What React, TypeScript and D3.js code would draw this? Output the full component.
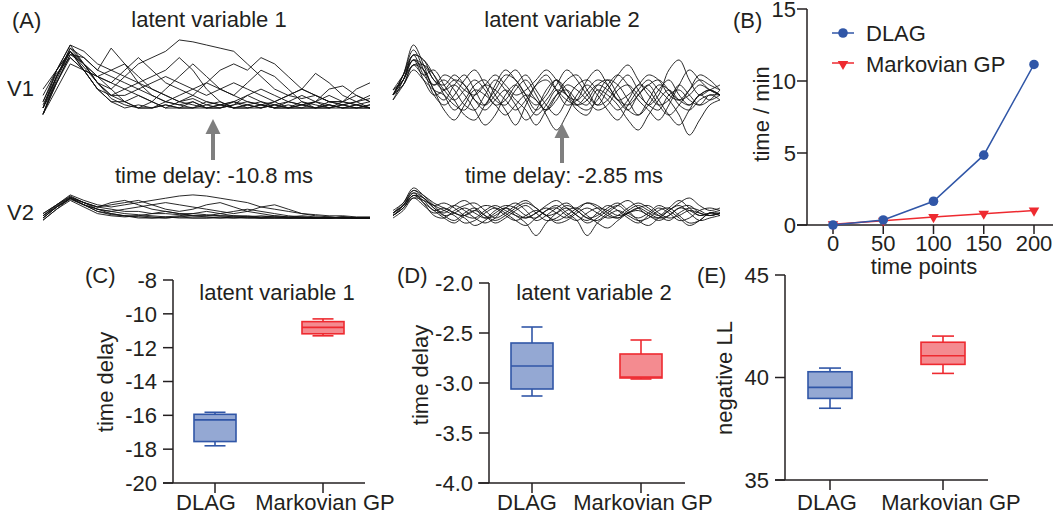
import React from 'react';
import * as d3 from 'd3';

const FONT = '"Liberation Sans", Arial, Helvetica, sans-serif';
const INK = '#231f20';
const BLUE = '#3056a7';
const BLUE_FILL = '#94a8d3';
const RED = '#ee2a30';
const RED_FILL = '#f48b90';
const ARROW = '#7f7f7f';

// (A) single-trial traces, latent variable 1 (area V1 and V2)
const lv1V1: number[][] = [
  [1, 6, 10, 7, 4, 3, 5, 7, 8, 9, 10.8, 10.5, 10, 9.5, 9, 7, 5, 3, 2, 1.5, 2, 1, 1, 0.5, 1],
  [-1, 5, 9.5, 8, 6, 9.5, 7, 4, 2, 1, 0.5, 1, 0, 0.5, 1, 0, 0.5, 1, 0, 0.5, 0, 1, 0.5, 0, 0.5],
  [0, 6, 9, 6, 3, 2, 3, 4, 5, 6, 8, 6, 3, 1, 0, 0.5, 1, 0, 1, 2, 1, 0, 0.5, 1, 0],
  [2, 6, 10, 9, 7, 6, 5, 4, 3, 2, 1, 2, 4, 6, 7, 6, 8, 7, 5, 3, 2, 1, 1, 2, 1],
  [-1, 4, 8.5, 7, 5, 4, 3, 2, 1, 0, 0, 1, 0, 0, 1, 0.5, 0, 1, 2, 3, 5.5, 4, 2, 1, 2],
  [0, 5, 9, 6.5, 4, 2, 1, 0, 1, 3, 5, 7, 5, 3, 2, 1, 0.5, 0, 0.5, 0, 0, 0.5, 0, 0, 0],
  [3, 6, 9, 7, 5, 3, 1, 0, 0, 0.5, 0, 0, 1, 0.5, 0, 0, 0.5, 0, 0, 1, 0.5, 0, 1, 3, 4],
  [-1, 4, 8, 6, 3, 1, 0, 0.5, 0, 1, 2, 3, 4, 3, 2, 4, 6, 5, 3, 1, 0, 0.5, 0, 0.5, 0],
  [0, 5, 9.5, 7, 4, 2, 2, 3, 2, 1, 0.5, 0, 0.5, 1, 0, 0.5, 0, 0.5, 1, 0.5, 0, 0, 0.5, 0, 0],
  [1, 5.5, 8, 6, 5, 6, 7, 5, 3, 2, 1, 1.5, 0.5, 0, 0.5, 2, 3, 2, 1, 0.5, 1, 3, 3.5, 2, 1],
  [-1, 4.5, 9, 7, 4, 1.5, 0.5, 0, 0, 0.5, 0, 0, 0, 0.5, 0, 0, 0, 0.5, 0, 0, 0, 0, 0, 0.5, 0],
  [0.5, 5, 9, 6, 3, 1, 1, 2, 1, 0, 1, 0.5, 0, 0, 0.5, 1, 0.5, 0, 0, 0.5, 1, 0.5, 0, 0, 0.5],
  [-1, 3, 7, 6, 5, 4, 6, 8, 6, 4, 3, 2, 1, 0.5, 1, 2, 1, 0.5, 0, 0, 1, 2, 1, 0.5, 0],
  [0, 4, 8.5, 8, 6, 5, 4, 3, 4, 5, 4, 3, 2, 3, 4, 3, 2, 1, 2, 3, 2, 1, 0.5, 1, 1.5],
];

const lv1V2: number[][] = [
  [2, 6, 10.5, 8, 6, 5, 6, 7, 8, 9, 10, 10.5, 10, 9, 8, 7, 5, 4, 3, 2, 1.5, 1, 1, 0.5, 0.5],
  [1, 6, 10, 7, 5, 7, 8, 6, 4, 3, 2, 2, 1.5, 1, 1, 0.5, 1, 0.5, 0, 0.5, 0, 0, 0.5, 0, 0],
  [0, 5, 9, 6, 4, 3, 4, 5, 6, 7, 6, 5, 4, 3, 2, 3, 5, 6, 4, 2, 1, 0.5, 0, 0, 0],
  [-1, 4, 9, 6, 3, 2, 1, 1, 2, 3, 2, 1, 1, 2, 3, 4, 3, 2, 1, 0.5, 0, 0, 0.5, 0, 0],
  [2, 6, 9.5, 7, 5, 4, 3, 3, 2, 2, 1.5, 1, 1, 1, 0.5, 0.5, 0, 0, 0, 0, 0, 0, 0, 0, 0],
  [0, 5, 8.5, 6, 3, 1.5, 1, 0.5, 0, 0.5, 0, 0, 0, 0.5, 0, 0, 0, 0, 0, 0, 0, 0, 0, 0, 0],
  [1, 5, 9, 7, 5, 6, 7, 8, 6, 4, 3, 4, 6, 7, 5, 3, 2, 1, 0.5, 1, 0.5, 0, 0, 0, 0],
  [-1, 4, 8, 5, 2, 1, 0.5, 1, 0.5, 0, 0.5, 1, 0.5, 0, 0, 0.5, 0, 0.5, 0, 0, 0, 0, 0.5, 0, 0],
  [0, 5, 9, 6, 4, 3, 2, 1.5, 1, 0.5, 1, 2, 3, 2, 1, 1, 0.5, 1, 0.5, 0, 0, 0, 0, 0, 0],
  [1, 5.5, 9.5, 7, 4, 2, 1, 0, 0, 0, 0.5, 0, 0, 0, 0.5, 0, 0, 0, 0, 0, 0, 0.5, 0, 0, 0],
];

// (A) latent variable 2
const lv2V1: number[][] = [
  [0, 4, 10, 6, 1, -1, 2, 4, 1, -2, 0, 3, 5, 2, -1, -3, 0, 3, 4, 1, -2, -1, 2, 4, 1, -2, 0, 5, 7, 3, 0, 1, 2],
  [0, 3, 7, 5, 2, 3, 1, -2, -3, 0, 3, 1, -2, -5, -3, 1, 3, 0, -3, -4, 0, 3, 2, -1, -4, -2, 1, 3, 0, -2, 0, 1, 0],
  [1, 3, 8, 7, 4, 0, -3, -1, 2, 3, 0, -3, -6, -2, 2, 4, 1, -2, -1, 3, 5, 2, -1, -3, 0, 2, -1, -4, -6, -3, 0, -1, 0],
  [-1, 2, 6, 4, 5, 2, -1, -4, -5, -2, 1, 4, 3, 0, -3, -1, 2, 5, 3, 0, -2, 1, 4, 6, 3, 0, -2, -1, 2, 0, -2, -1, 1],
  [0, 4, 9, 5, 0, -2, 0, 3, 5, 2, -1, -2, 1, 3, 0, -4, -7, -4, 0, 2, 0, -3, -5, -2, 1, 3, 1, -1, -4, -8, -5, -2, -1],
  [0, 2, 5, 3, 1, 0, -2, -3, 0, 2, 1, -1, -3, -1, 2, 3, 1, -1, -2, 0, 2, 1, -1, -2, 0, 2, 3, 1, -1, 0, 2, 1, 0],
  [1, 3, 7, 6, 3, 1, 2, 0, -3, -6, -4, 0, 2, -1, -4, -2, 1, 0, -2, -1, 2, 3, 0, -3, -4, -1, 2, 1, -2, -3, -1, 0, 0],
  [-1, 3, 8, 4, 2, 4, 3, 1, 0, 2, 4, 2, 0, 1, 3, 5, 3, 0, -1, 1, 3, 2, -1, 0, 2, 4, 3, 0, -1, 1, 3, 2, 1],
  [0, 3, 6, 5, 1, -3, -5, -2, 1, 0, -2, -4, -2, 0, -1, -3, -1, 2, 1, -1, -3, -2, 1, 2, 0, -2, -3, 0, 1, -1, -2, 0, -1],
  [0, 4, 8, 7, 3, 2, 4, 2, -1, -2, 2, 5, 3, 0, -2, 0, 3, 1, -2, -3, -1, 2, 4, 2, -1, -3, -5, -2, 2, 5, 3, 1, 0],
  [0, 2, 6, 6, 4, 1, -1, 1, 3, 1, -2, -1, 2, 4, 1, -2, -4, -1, 2, 3, 1, -1, -3, -1, 2, 1, -2, -4, -2, 1, 4, 3, 1],
  [1, 4, 7, 3, 0, 1, 3, 2, -1, -3, -1, 1, -1, -3, -6, -3, 0, 1, -1, -2, 1, 0, -2, -5, -7, -4, -1, 1, -1, -2, 0, 1, 0],
];

const lv2V2: number[][] = [
  [-1, 3, 9, 6, 2, 0, 3, 5, 2, -2, -1, 2, 4, 1, -3, -1, 2, 4, 1, -2, -3, 0, 3, 5, 2, -1, -2, 1, 4, 6, 3, 1, 2],
  [0, 4, 10, 7, 3, -1, -3, 0, 2, -1, -4, -2, 1, 3, 0, -3, -2, 1, 2, -1, -4, -6, -3, 0, 2, 0, -2, -1, 2, 3, 0, -1, 0],
  [-1, 2, 7, 5, 1, 2, 0, -2, -5, -3, 0, 2, -1, -4, -9, -4, 0, 3, 1, -2, -1, 2, 4, 1, -3, -5, -2, 1, 3, 0, -3, -2, -1],
  [0, 3, 8, 4, -1, -2, 1, 3, 4, 1, -2, 0, 3, 5, 2, -1, -3, -1, 2, 4, 3, 0, -2, 1, 3, 1, -1, 2, 5, 2, -1, 0, 1],
  [-2, 1, 6, 5, 3, 1, -1, -4, -3, 0, 2, 0, -3, -5, -2, 1, 3, 0, -3, -9, -4, -1, 1, -1, -3, -2, 1, 2, -1, -4, -3, 0, -1],
  [0, 3, 8, 6, 2, -1, 0, 2, 0, -2, 1, 3, 2, -1, -2, 1, 2, -1, -3, 0, 2, 1, -1, 0, 2, 3, 0, -2, -1, 1, 0, -1, 0],
  [-1, 2, 6, 3, 0, 1, 3, 1, -2, -4, -2, 2, 0, -2, 0, 3, 5, 2, -1, -3, 0, 3, 1, -2, -4, -1, 2, 0, -3, -2, 1, 2, 1],
  [1, 4, 9, 7, 4, 2, 0, -1, 1, 3, 2, -1, -3, -1, 1, -1, -4, -3, 0, 2, 0, -2, -1, 2, 4, 2, -1, -3, 0, 2, 1, -1, 0],
  [-1, 2, 7, 4, 1, -2, -4, -1, 1, -1, -3, -1, 2, 4, 2, -1, 0, 2, -1, -4, -2, 1, 3, 0, -2, 0, 3, 1, -2, -5, -3, 0, -1],
  [0, 3, 7, 6, 3, 4, 2, -1, -2, 1, 3, 1, -1, -2, 0, 2, 0, -2, 1, 4, 2, -1, -2, 0, 1, -1, -3, -1, 2, 1, -1, 0, 0],
];

// (B) run time
const timePoints = [0, 50, 100, 150, 200];
const dlagMinutes = [0, 0.35, 1.65, 4.85, 11.15];
const markovMinutes = [0.05, 0.3, 0.55, 0.78, 1.0];
const timeTicks = [0, 5, 10, 15];

// (C)-(E) boxes: [lower whisker, Q1, median, Q3, upper whisker]
const methods = ['DLAG', 'Markovian GP'];
const delayLv1 = [
  [-17.8, -17.55, -16.27, -15.94, -15.82],
  [-11.3, -11.18, -10.8, -10.46, -10.3],
];
const delayLv2 = [
  [-3.13, -3.06, -2.83, -2.6, -2.44],
  [-2.96, -2.95, -2.94, -2.71, -2.57],
];
const negLL = [
  [38.5, 38.98, 39.52, 40.28, 40.46],
  [40.2, 40.64, 41.06, 41.72, 42.02],
];
const ticksC = [-8, -10, -12, -14, -16, -18, -20];
const ticksD = [-2.0, -2.5, -3.0, -3.5, -4.0];
const ticksE = [35, 40, 45];

const txt = { fontFamily: FONT, fontSize: 22, fill: INK } as const;

function Traces({ data, x0, x1, y0, y1, smooth }: any) {
  const y = d3.scaleLinear().domain([0, 10]).range([y0, y1]);
  return (
    <g>
      {data.map((tr: number[], k: number) => {
        const x = d3.scaleLinear().domain([0, tr.length - 1]).range([x0, x1]);
        const line = d3
          .line<number>()
          .x((_, i) => x(i))
          .y((v) => y(v))
          .curve(smooth ? d3.curveCatmullRom : d3.curveLinear);
        return <path key={k} d={line(tr) || ''} fill="none" stroke="#111" strokeWidth={0.9} />;
      })}
    </g>
  );
}

function UpArrow({ x, tip, bottom }: any) {
  const head = 15;
  const d = `M${x - 2},${bottom} L${x - 2},${tip + head} L${x - 7.5},${tip + head} L${x},${tip} L${x + 7.5},${tip + head} L${x + 2},${tip + head} L${x + 2},${bottom} Z`;
  return <path d={d} fill={ARROW} />;
}

function BoxPanel(p: any) {
  const y = d3.scaleLinear().domain(p.domain).range([p.yBottom, p.yTop]);
  const x = d3.scalePoint<string>().domain(methods).range([p.tick0, p.tick1]);
  const colors = [
    { stroke: BLUE, fill: BLUE_FILL },
    { stroke: RED, fill: RED_FILL },
  ];
  const bw = p.boxW;
  return (
    <g>
      <text x={p.tagX} y={283} {...txt}>{p.tag}</text>
      {p.title && (
        <text x={p.titleX} y={300} textAnchor="middle" {...txt}>{p.title}</text>
      )}
      <line x1={p.axisX} x2={p.axisX} y1={p.yTop} y2={p.yBottom} stroke={INK} strokeWidth={1.5} />
      <line x1={p.xLine0} x2={p.xLine1} y1={p.yBottom} y2={p.yBottom} stroke={INK} strokeWidth={1.5} />
      {p.ticks.map((t: number) => (
        <g key={t}>
          <line x1={p.axisX - 10} x2={p.axisX} y1={y(t)} y2={y(t)} stroke={INK} strokeWidth={1.5} />
          <text x={p.axisX - 16} y={y(t)} dy="0.36em" textAnchor="end" {...txt}>
            {p.fmt(t)}
          </text>
        </g>
      ))}
      {methods.map((m, i) => (
        <g key={m}>
          <line x1={x(m)} x2={x(m)} y1={p.yBottom} y2={p.yBottom + 10} stroke={INK} strokeWidth={1.5} />
          <text x={(x(m) as number) + p.labelDx[i]} y={510} textAnchor="middle" {...txt}>{m}</text>
        </g>
      ))}
      {p.stats.map((s: number[], i: number) => {
        const cx = x(methods[i]) as number;
        const c = colors[i];
        return (
          <g key={i} stroke={c.stroke} strokeWidth={1.6}>
            <line x1={cx} x2={cx} y1={y(s[0])} y2={y(s[1])} />
            <line x1={cx} x2={cx} y1={y(s[3])} y2={y(s[4])} />
            <line x1={cx - bw / 4} x2={cx + bw / 4} y1={y(s[0])} y2={y(s[0])} />
            <line x1={cx - bw / 4} x2={cx + bw / 4} y1={y(s[4])} y2={y(s[4])} />
            <rect x={cx - bw / 2} y={y(s[3])} width={bw} height={y(s[1]) - y(s[3])} fill={c.fill} />
            <line x1={cx - bw / 2} x2={cx + bw / 2} y1={y(s[2])} y2={y(s[2])} />
          </g>
        );
      })}
      <text
        transform={`translate(${p.labelX},${p.labelY}) rotate(-90)`}
        textAnchor="middle"
        {...txt}
      >
        {p.yLabel}
      </text>
    </g>
  );
}

function PanelB() {
  const x = d3.scaleLinear().domain([0, 200]).range([833, 1034]);
  const y = d3.scaleLinear().domain([0, 15]).range([225, 9]);
  const line = d3
    .line<number>()
    .x((_, i) => x(timePoints[i]))
    .y((v) => y(v));
  const tri = d3.symbol(d3.symbolTriangle, 48)() || '';
  return (
    <g>
      <text x={733} y={28} {...txt}>(B)</text>
      <line x1={807} x2={807} y1={y(15)} y2={y(0)} stroke={INK} strokeWidth={1.5} />
      <line x1={797} x2={1053} y1={y(0)} y2={y(0)} stroke={INK} strokeWidth={1.5} />
      {timeTicks.map((t) => (
        <g key={t}>
          <line x1={797} x2={807} y1={y(t)} y2={y(t)} stroke={INK} strokeWidth={1.5} />
          <text x={796} y={y(t)} dy="0.36em" textAnchor="end" {...txt}>{t}</text>
        </g>
      ))}
      {timePoints.map((t) => (
        <g key={t}>
          <line x1={x(t)} x2={x(t)} y1={y(0)} y2={y(0) + 9} stroke={INK} strokeWidth={1.5} />
          <text x={x(t)} y={251} textAnchor="middle" {...txt}>{t}</text>
        </g>
      ))}
      <text x={924} y={274} textAnchor="middle" {...txt}>time points</text>
      <text transform="translate(769,114) rotate(-90)" textAnchor="middle" {...txt}>
        time / min
      </text>
      <path d={line(markovMinutes) || ''} fill="none" stroke={RED} strokeWidth={1.5} />
      {markovMinutes.map((v, i) => (
        <path key={i} d={tri} transform={`translate(${x(timePoints[i])},${y(v)}) rotate(180)`} fill={RED} />
      ))}
      <path d={line(dlagMinutes) || ''} fill="none" stroke={BLUE} strokeWidth={1.5} />
      {dlagMinutes.map((v, i) => (
        <circle key={i} cx={x(timePoints[i])} cy={y(v)} r={4.8} fill={BLUE} />
      ))}
      <line x1={832} x2={854} y1={33} y2={33} stroke={BLUE} strokeWidth={1.5} />
      <circle cx={843} cy={33} r={4.8} fill={BLUE} />
      <text x={866} y={41} {...txt}>DLAG</text>
      <line x1={832} x2={854} y1={63} y2={63} stroke={RED} strokeWidth={1.5} />
      <path d={tri} transform="translate(843,64) rotate(180)" fill={RED} />
      <text x={866} y={72} {...txt}>Markovian GP</text>
    </g>
  );
}

export default function App() {
  return (
    <svg width={1058} height={516} style={{ position: 'absolute', left: 0, top: 0, background: '#fff' }}>
      {/* (A) */}
      <text x={12} y={28} {...txt}>(A)</text>
      <text x={209} y={27} textAnchor="middle" {...txt}>latent variable 1</text>
      <text x={562} y={27} textAnchor="middle" {...txt}>latent variable 2</text>
      <text x={7} y={96} {...txt}>V1</text>
      <text x={7} y={220} {...txt}>V2</text>
      <Traces data={lv1V1} x0={43} x1={370} y0={108} y1={45} />
      <Traces data={lv1V2} x0={43} x1={370} y0={218} y1={196} />
      <Traces data={lv2V1} x0={393} x1={720} y0={95} y1={45} smooth />
      <Traces data={lv2V2} x0={393} x1={720} y0={213} y1={188} smooth />
      <UpArrow x={213} tip={119} bottom={160} />
      <UpArrow x={562} tip={123} bottom={163} />
      <text x={214} y={183} textAnchor="middle" {...txt}>time delay: -10.8 ms</text>
      <text x={564} y={183} textAnchor="middle" {...txt}>time delay: -2.85 ms</text>

      <PanelB />

      <BoxPanel
        tag="(C)" tagX={85} title="latent variable 1" titleX={277}
        stats={delayLv1} domain={[-20, -8]} yTop={280} yBottom={483}
        axisX={173} xLine0={163} xLine1={365} tick0={215} tick1={323}
        ticks={ticksC} fmt={(t: number) => String(t)} boxW={42} labelDx={[-9, 2]}
        yLabel="time delay" labelX={113} labelY={382}
      />
      <BoxPanel
        tag="(D)" tagX={397} title="latent variable 2" titleX={594}
        stats={delayLv2} domain={[-4, -2]} yTop={283} yBottom={483}
        axisX={489} xLine0={478} xLine1={685} tick0={532} tick1={641}
        ticks={ticksD} fmt={(t: number) => t.toFixed(1)} boxW={42} labelDx={[-5, 2]}
        yLabel="time delay" labelX={428} labelY={375}
      />
      <BoxPanel
        tag="(E)" tagX={697} title=""
        stats={negLL} domain={[35, 45]} yTop={275} yBottom={480}
        axisX={785} xLine0={775} xLine1={988} tick0={830} tick1={943}
        ticks={ticksE} fmt={(t: number) => String(t)} boxW={44} labelDx={[-3, 8]}
        yLabel="negative LL" labelX={732} labelY={378}
      />
    </svg>
  );
}
